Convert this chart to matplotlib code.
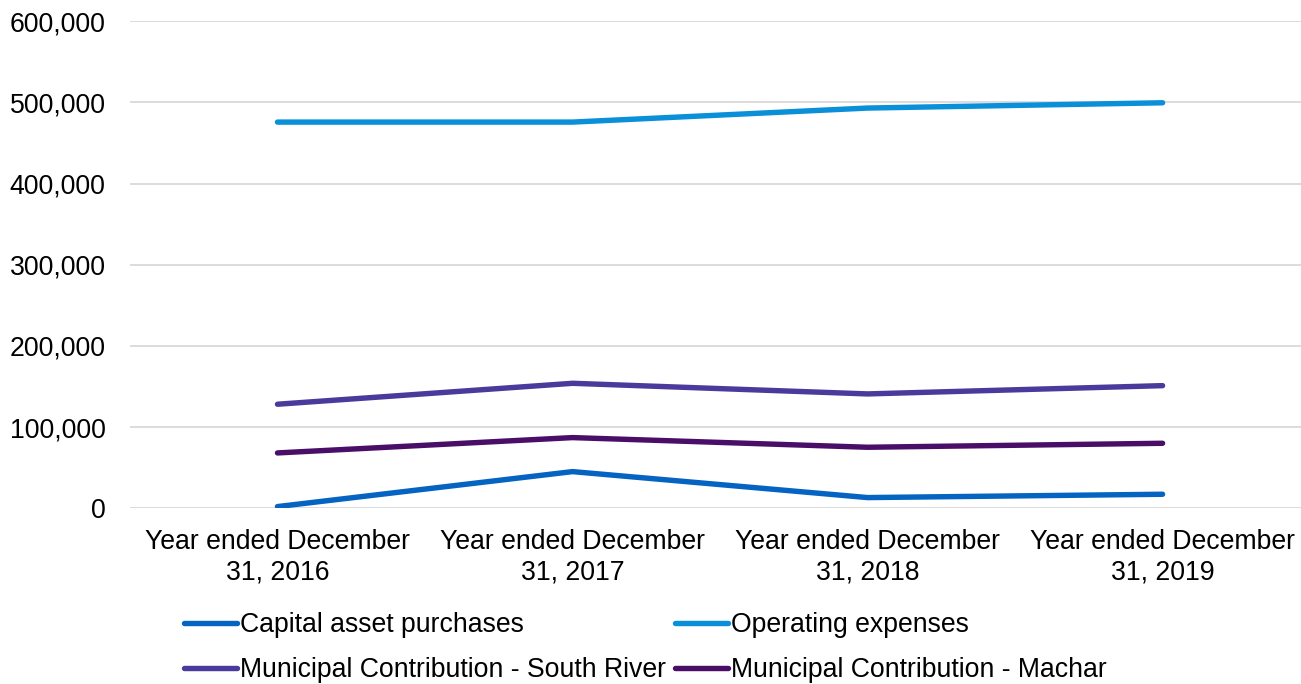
import matplotlib.pyplot as plt
from matplotlib.ticker import FuncFormatter

plt.rcParams['font.family'] = ['Liberation Sans', 'DejaVu Sans']

years = ['Year ended December\n31, 2016', 'Year ended December\n31, 2017',
         'Year ended December\n31, 2018', 'Year ended December\n31, 2019']
capital_asset   = [2000, 45100, 13100, 17200]
operating_exp   = [475700, 475700, 493000, 499500]
south_river     = [128100, 153900, 140800, 151000]
machar          = [68100, 87000, 75100, 80000]

series = [
    ('Capital asset purchases', capital_asset, '#0563C1'),
    ('Operating expenses', operating_exp, '#0A8FD9'),
    ('Municipal Contribution - South River', south_river, '#4B3A9B'),
    ('Municipal Contribution - Machar', machar, '#4A0E68'),
]

fig = plt.figure(figsize=(13.01, 6.84), dpi=100)
ax = fig.add_axes([0.0999, 0.257, 0.9071, 0.712])

x = list(range(len(years)))
lines = []
for name, vals, col in series:
    ln, = ax.plot(x, vals, color=col, lw=3.9, solid_capstyle='round', label=name)
    lines.append(ln)

ax.set_xlim(-0.5, len(years) - 0.5)
ax.set_ylim(0, 600000)
ax.set_yticks(range(0, 600001, 100000))
ax.yaxis.set_major_formatter(FuncFormatter(lambda v, p: f'{int(v):,}'))
ax.set_xticks(x)
ax.set_xticklabels(years, linespacing=1.2)
ax.tick_params(axis='both', length=0, labelsize=19.2, colors='black')
ax.tick_params(axis='y', pad=17.5)
ax.tick_params(axis='x', pad=15)
ax.grid(axis='y', color='#d9d9d9', lw=1.3)
ax.set_axisbelow(True)
for s in ax.spines.values():
    s.set_visible(False)

# legend fills row by row: capital/operating on top, contributions below
order = [0, 2, 1, 3]
fig.legend([lines[i] for i in order], [series[i][0] for i in order],
           loc='upper center', bbox_to_anchor=(0.496, 0.14), ncol=2, frameon=False,
           fontsize=19.2, handlelength=2.0, handletextpad=0.1, columnspacing=0.35,
           labelspacing=0.72)

fig.savefig('out.png', dpi=100)
